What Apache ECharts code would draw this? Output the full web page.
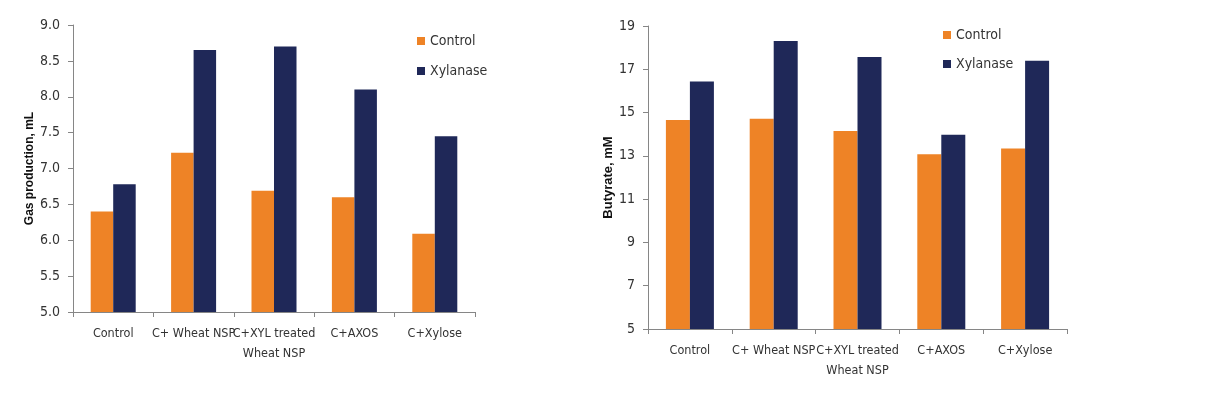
<!doctype html>
<html lang="en">
  <head>
    <meta charset="UTF-8" />
    <title>Gas production and butyrate</title>
    <script src="https://cdn.jsdelivr.net/npm/echarts/dist/echarts.min.js"></script>
    <style>
      html, body { margin: 0; padding: 0; background: #fff; }
      #main { width: 1212px; height: 396px; }
    </style>
  </head>
  <body>
    <div id="main"></div>
    <script>
      // data
      const categories = ["Control", "C+ Wheat NSP", "C+XYL treated\nWheat NSP", "C+AXOS", "C+Xylose"];
      const gasControl = [6.40, 7.22, 6.69, 6.60, 6.09];
      const gasXylanase = [6.78, 8.65, 8.70, 8.10, 7.45];
      const butControl = [14.66, 14.72, 14.15, 13.07, 13.34];
      const butXylanase = [16.43, 18.31, 17.57, 13.98, 17.40];
      const butTicks = [5, 7, 9, 11, 13, 15, 17, 19];

      const orange = "#EE8326";
      const navy = "#1F2858";
      const axisGray = "#868686";
      const font = "'Liberation Sans', Arial, sans-serif";
      const narrow = "'Liberation Sans Narrow', 'DejaVu Sans Condensed', 'Liberation Sans', sans-serif";

      const chart = echarts.init(document.getElementById("main"));

      function xAxisFor(gi) {
        return {
          type: "category",
          gridIndex: gi,
          data: categories,
          axisLine: { lineStyle: { color: axisGray } },
          axisTick: { show: true, length: 5, lineStyle: { color: axisGray } },
          axisLabel: {
            interval: 0,
            color: "#333",
            fontSize: 12.5,
            fontFamily: narrow,
            margin: 12,
            lineHeight: 20,
          },
        };
      }

      const legendText = { fontSize: 14, color: "#333", fontFamily: narrow };

      const option = {
        animation: false,
        textStyle: { fontFamily: font },
        grid: [
          { left: 73, right: 737, top: 25, bottom: 84 },
          { left: 648, right: 145, top: 26, bottom: 67 },
        ],
        legend: [
          {
            left: 412, top: 29, orient: "vertical", icon: "rect",
            itemWidth: 8, itemHeight: 8, itemGap: 16,
            textStyle: legendText,
            data: ["Control", "Xylanase"],
          },
          {
            left: 938, top: 23, orient: "vertical", icon: "rect",
            itemWidth: 8, itemHeight: 8, itemGap: 15,
            textStyle: legendText,
            data: ["Control", "Xylanase"],
          },
        ],
        xAxis: [xAxisFor(0), xAxisFor(1)],
        yAxis: [
          {
            type: "value",
            gridIndex: 0,
            min: 5, max: 9, interval: 0.5,
            name: "Gas production, mL",
            nameLocation: "middle",
            nameGap: 31,
            nameTextStyle: { fontWeight: "bold", fontSize: 12, color: "#111" },
            splitLine: { show: false },
            axisLine: { show: true, lineStyle: { color: axisGray } },
            axisTick: { show: true, length: 5, lineStyle: { color: axisGray } },
            axisLabel: {
              color: "#333", fontSize: 14, margin: 13, fontFamily: narrow,
              formatter: (v) => v.toFixed(1),
            },
          },
          {
            type: "value",
            gridIndex: 1,
            min: 5, max: 19,
            name: "Butyrate, mM",
            nameLocation: "middle",
            nameGap: 23,
            nameTextStyle: { fontWeight: "bold", fontSize: 13, color: "#111" },
            splitLine: { show: false },
            axisLine: { show: true, lineStyle: { color: axisGray } },
            axisTick: { show: true, length: 5, lineStyle: { color: axisGray }, customValues: butTicks },
            axisLabel: { color: "#333", fontSize: 14, margin: 13, fontFamily: narrow, customValues: butTicks },
          },
        ],
        series: [
          { name: "Control", type: "bar", xAxisIndex: 0, yAxisIndex: 0, data: gasControl,
            barWidth: 22.5, barGap: 0, itemStyle: { color: orange } },
          { name: "Xylanase", type: "bar", xAxisIndex: 0, yAxisIndex: 0, data: gasXylanase,
            barWidth: 22.5, barGap: 0, itemStyle: { color: navy } },
          { name: "Control", type: "bar", xAxisIndex: 1, yAxisIndex: 1, data: butControl,
            barWidth: 24, barGap: 0, itemStyle: { color: orange } },
          { name: "Xylanase", type: "bar", xAxisIndex: 1, yAxisIndex: 1, data: butXylanase,
            barWidth: 24, barGap: 0, itemStyle: { color: navy } },
        ],
      };

      chart.setOption(option);
    </script>
  </body>
</html>
